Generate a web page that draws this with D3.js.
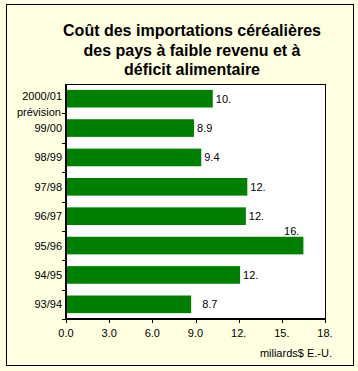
<!DOCTYPE html>
<html>
<head>
<meta charset="utf-8">
<script src="https://cdn.jsdelivr.net/npm/d3@7"></script>
<style>
  html, body { margin: 0; padding: 0; background: #fff; }
  svg { display: block; }
  text { font-family: "Liberation Sans", Arial, sans-serif; fill: #000; }
</style>
</head>
<body>
<svg id="chart" width="358" height="371"></svg>
<script>
'use strict';

// chart data, top to bottom as drawn
var seasons = ['2000/01 prévision', '99/00', '98/99', '97/98', '96/97', '95/96', '94/95', '93/94'];
var costs = [10.2, 8.9, 9.4, 12.6, 12.5, 16.5, 12.1, 8.7];
var valueLabels = ['10.', '8.9', '9.4', '12.', '12.', '16.', '12.', '8.7'];
var xTicks = [0, 3, 6, 9, 12, 15, 18];
var xTickLabels = ['0.0', '3.0', '6.0', '9.0', '12.', '15.', '18.'];
var titleLines = ['Coût des importations céréalières', 'des pays à faible revenu et à', 'déficit alimentaire'];
var unitLabel = 'miliards$ E.-U.';

var W = 358, H = 371;
var plot = { left: 66, top: 84, right: 325, bottom: 319 };

var svg = d3.select('#chart');

// dithered light yellow background (white / yellow checkerboard)
var defs = svg.append('defs');
var pat = defs.append('pattern')
    .attr('id', 'dither')
    .attr('width', 2).attr('height', 2)
    .attr('patternUnits', 'userSpaceOnUse');
pat.append('rect').attr('width', 2).attr('height', 2).attr('fill', '#ffffff');
pat.append('rect').attr('width', 1).attr('height', 1).attr('fill', '#ffffc4');
pat.append('rect').attr('x', 1).attr('y', 1).attr('width', 1).attr('height', 1).attr('fill', '#ffffc4');

svg.append('rect')
    .attr('width', W).attr('height', H)
    .attr('fill', 'url(#dither)');

// outer frame
svg.append('rect')
    .attr('x', 6.5).attr('y', 4.5)
    .attr('width', 347).attr('height', 361)
    .attr('fill', 'none')
    .attr('stroke', '#000')
    .attr('stroke-width', 1);

// title
svg.append('g')
    .selectAll('text')
    .data(titleLines)
    .enter()
    .append('text')
        .attr('x', 192)
        .attr('y', (d, i) => 36 + i * 19.5)
        .attr('text-anchor', 'middle')
        .style('font-size', '16px')
        .style('font-weight', 'bold')
        .text(d => d);

// scales
var x = d3.scaleLinear().domain([0, 18]).range([plot.left, plot.right]);
var y = d3.scaleBand().domain(seasons).range([plot.top, plot.bottom]).paddingInner(0.4).paddingOuter(0.2);

// plot area
svg.append('rect')
    .attr('x', plot.left).attr('y', plot.top + 0.5)
    .attr('width', plot.right - plot.left + 0.5)
    .attr('height', plot.bottom - plot.top)
    .attr('fill', '#fff')
    .attr('stroke', '#000')
    .attr('stroke-width', 1);

// bars
svg.append('g')
    .selectAll('rect')
    .data(costs)
    .enter()
    .append('rect')
        .attr('x', x(0))
        .attr('y', (d, i) => y(seasons[i]))
        .attr('width', d => x(d) - x(0))
        .attr('height', y.bandwidth())
        .attr('fill', '#008000');

// value labels
svg.append('g')
    .selectAll('text')
    .data(costs)
    .enter()
    .append('text')
        .style('font-size', '11px')
        .attr('text-anchor', (d, i) => i === 5 ? 'end' : 'start')
        .attr('x', function (d, i) {
            if (i === 5) return x(d) - 4;      // no room on the right: put it above
            if (i === 7) return x(d) + 11;
            return x(d) + 3;
        })
        .attr('y', function (d, i) {
            if (i === 5) return y(seasons[i]) - 2;
            return y(seasons[i]) + y.bandwidth() / 2 + 4;
        })
        .text((d, i) => valueLabels[i]);

// y axis: thick line, ticks between categories
var boundaries = d3.range(seasons.length + 1).map(i => plot.top + i * y.step());
svg.append('g')
    .selectAll('line')
    .data(boundaries.slice(1))
    .enter()
    .append('line')
        .attr('x1', plot.left - 4).attr('x2', plot.left)
        .attr('y1', d => Math.round(d) + 0.5).attr('y2', d => Math.round(d) + 0.5)
        .attr('stroke', '#000');

svg.append('line')
    .attr('x1', plot.left).attr('x2', plot.left)
    .attr('y1', plot.top).attr('y2', plot.bottom + 1)
    .attr('stroke', '#000').attr('stroke-width', 2);

// y labels (right aligned, first one on two lines)
var yLabels = svg.append('g');
seasons.forEach(function (s, i) {
    var cy = y(s) + y.bandwidth() / 2;
    if (i === 0) {
        yLabels.append('text')
            .attr('x', 62).attr('y', cy + 1)
            .attr('text-anchor', 'end')
            .style('font-size', '11px')
            .text('2000/01');
        yLabels.append('text')
            .attr('x', 61).attr('y', cy + 17)
            .attr('text-anchor', 'end')
            .style('font-size', '11px')
            .text('prévision');
    } else {
        yLabels.append('text')
            .attr('x', 62).attr('y', cy + 4)
            .attr('text-anchor', 'end')
            .style('font-size', '11px')
            .text(s);
    }
});

// x axis
svg.append('line')
    .attr('x1', plot.left - 1).attr('x2', plot.right + 1)
    .attr('y1', plot.bottom).attr('y2', plot.bottom)
    .attr('stroke', '#000').attr('stroke-width', 2);

var xAxis = svg.append('g');
xAxis.selectAll('line')
    .data(xTicks)
    .enter()
    .append('line')
        .attr('x1', d => Math.round(x(d)) + 0.5).attr('x2', d => Math.round(x(d)) + 0.5)
        .attr('y1', plot.bottom).attr('y2', plot.bottom + 4)
        .attr('stroke', '#000');

xAxis.selectAll('text')
    .data(xTicks)
    .enter()
    .append('text')
        .attr('x', d => x(d))
        .attr('y', plot.bottom + 18)
        .attr('text-anchor', 'middle')
        .style('font-size', '11px')
        .text((d, i) => xTickLabels[i]);

svg.append('text')
    .attr('x', 332).attr('y', 357)
    .attr('text-anchor', 'end')
    .style('font-size', '11px')
    .text(unitLabel);
</script>
</body>
</html>
